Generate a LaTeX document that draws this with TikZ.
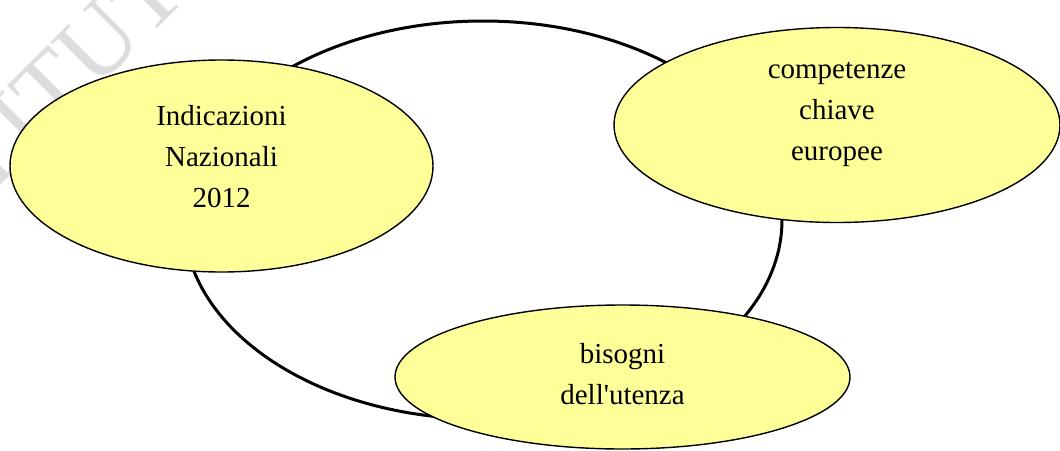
\documentclass[tikz,border=0pt]{standalone}
\usepackage{fontspec}
\setmainfont{Liberation Serif}[Ligatures=TeXOff]
\usetikzlibrary{shapes.geometric}
\definecolor{bubble}{RGB}{255,255,153}
\definecolor{wmark}{RGB}{221,221,221}
\tikzset{
  bubble/.style={ellipse, draw=black, line width=1.4pt, fill=bubble, inner sep=0pt,
    align=center, font=\fontsize{29}{41}\selectfont},
  ring/.style={ellipse, draw=black, line width=3pt, inner sep=0pt},
  watermark/.style={text=wmark, font=\fontsize{100}{100}\selectfont, rotate=45, inner sep=0pt},
  label/.style={align=center, font=\fontsize{29}{41}\selectfont, inner sep=0pt}
}
\begin{document}
\begin{tikzpicture}[x=1pt,y=-1pt]
\useasboundingbox (0,0) rectangle (1060,450);
\begin{scope}
\clip (0,0) rectangle (1060,450);
\node[watermark] (wm) at (58,82) {ISTITUTO};
\node[ring, minimum width=598pt, minimum height=398pt] (cycle) at (483,220) {};
\node[bubble, minimum width=423pt, minimum height=212pt] (indicazioni) at (221.5,166) {};
\node[bubble, minimum width=446pt, minimum height=195pt] (competenze) at (837,125) {};
\node[bubble, minimum width=455pt, minimum height=144pt] (bisogni) at (622.5,377) {};
\node[label] (tindicazioni) at ([yshift=9pt]indicazioni.center) {Indicazioni\\Nazionali\\2012};
\node[label] (tcompetenze) at ([yshift=11pt]competenze.center) {competenze\\chiave\\europee};
\node[label] (tbisogni) at ([yshift=3pt]bisogni.center) {bisogni\\dell'utenza};
\end{scope}
\end{tikzpicture}
\end{document}
